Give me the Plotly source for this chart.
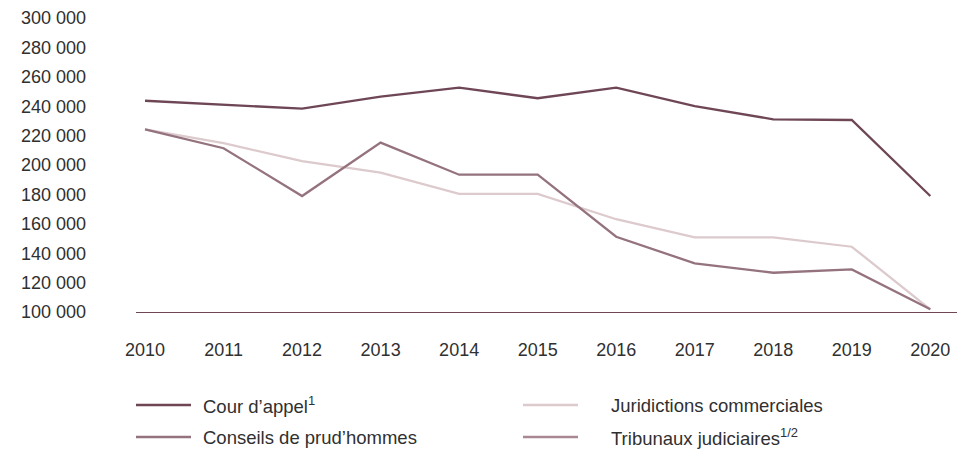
import plotly.graph_objects as go

years = [2010, 2011, 2012, 2013, 2014, 2015, 2016, 2017, 2018, 2019, 2020]

cour_appel = [243700, 240800, 238300, 246500, 252600, 245400, 252600, 240100, 231100, 230600, 178900]
juridictions_commerciales = [224300, 214800, 202700, 194800, 180300, 180300, 163100, 150800, 150800, 144400, 101800]
conseils_prudhommes = [224300, 211400, 178900, 215200, 193400, 193400, 151200, 133100, 126700, 129000, 101800]
tribunaux_judiciaires = [None] * 11

names = ["Cour d’appel", "Juridictions commerciales", "Conseils de prud’hommes", "Tribunaux judiciaires"]
footnotes = ["1", "", "", "1/2"]
colors = ["#6e4656", "#dccacd", "#94727e", "#a88893"]
series = [cour_appel, juridictions_commerciales, conseils_prudhommes, tribunaux_judiciaires]

y_ticks = list(range(100000, 300001, 20000))

FONT = "Liberation Sans, Arial, sans-serif"
TXT = "#303030"

fig = go.Figure()
for name, col, vals in zip(names, colors, series):
    fig.add_trace(go.Scatter(x=years, y=vals, mode="lines", name=name,
                             line=dict(color=col, width=2.3), showlegend=False))

# plot area geometry (pixels) for manual legend placement
L, R, T, B = 136, 957, 18, 312
W, H = R - L, B - T
def px(x):
    return (x - L) / W
def py(y):
    return (B - y) / H

legend_pos = [(136, 405), (523, 405), (136, 437), (523, 437)]
text_x = {136: 201, 523: 609}
shapes = []
annotations = []
for (lx, ly), name, fn, col in zip(legend_pos, names, footnotes, colors):
    shapes.append(dict(type="line", xref="paper", yref="paper",
                       x0=px(lx), x1=px(lx + 55), y0=py(ly), y1=py(ly),
                       line=dict(color=col, width=2.5)))
    label = name + (f"<sup>{fn}</sup>" if fn else "")
    annotations.append(dict(xref="paper", yref="paper", x=px(text_x[lx]), y=py(ly),
                            text=label, showarrow=False, xanchor="left", yanchor="middle",
                            font=dict(family=FONT, size=18.5, color=TXT)))

fig.update_layout(
    width=957, height=451,
    margin=dict(l=L, r=957 - R, t=T, b=451 - B, pad=0),
    paper_bgcolor="white", plot_bgcolor="white",
    separators=", ",
    font=dict(family=FONT, size=18, color=TXT),
    shapes=shapes, annotations=annotations,
    xaxis=dict(range=[2009.885, 2020.34], tickvals=years, ticktext=[str(y) for y in years],
               showgrid=False, zeroline=False, showline=True, linecolor="#6e4656", linewidth=1.2,
               ticks="", ticklabelstandoff=21, tickfont=dict(family=FONT, size=18, color=TXT)),
    yaxis=dict(range=[100000, 300000], tickvals=y_ticks, tickformat=",d",
               showgrid=False, zeroline=False, showline=False,
               ticks="", ticklabelstandoff=49, tickfont=dict(family=FONT, size=18, color=TXT)),
)

fig.write_html("out.html", config={"displayModeBar": False},
               post_script="document.body.style.margin='0';document.body.style.overflow='hidden';")
